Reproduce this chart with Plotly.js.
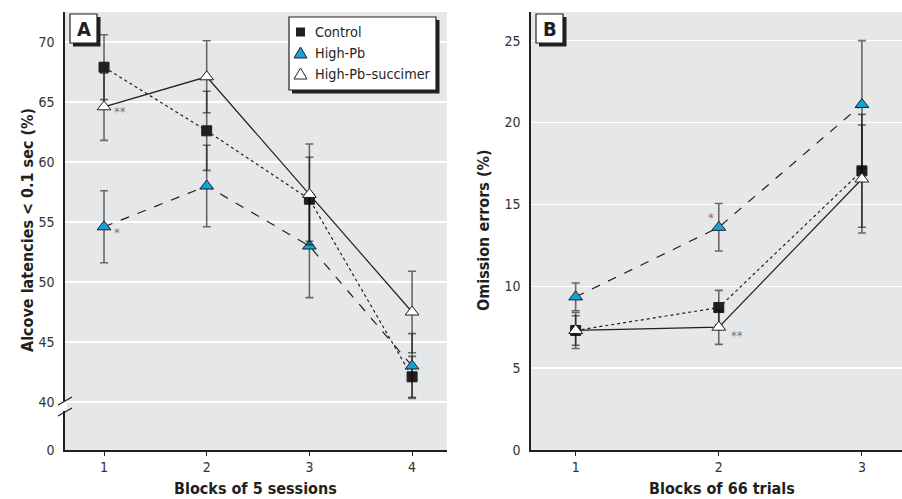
<!DOCTYPE html>
<html><head><meta charset="utf-8">
<script src="https://cdn.plot.ly/plotly-3.0.1.min.js"></script>
<style>html,body{margin:0;padding:0;background:#fff}</style>
</head><body><div id="chart" style="width:902px;height:499px"></div>
<script>
// ---- Panel A data (Blocks of 5 sessions) ----
const blocksA = [1, 2, 3, 4];
const controlA = [67.9, 62.6, 56.9, 42.1];
const controlAErr = [2.7, 3.3, 3.5, 1.7];
const highPbA = [54.6, 58.0, 53.0, 43.0];
const highPbAErr = [3.0, 3.4, 4.3, 2.7];
const succimerA = [64.6, 67.1, 57.3, 47.5];
const succimerAErr = [2.8, 3.0, 4.2, 3.4];
const yTicksA = [0, 40, 45, 50, 55, 60, 65, 70];

// ---- Panel B data (Blocks of 66 trials) ----
const blocksB = [1, 2, 3];
const controlB = [7.3, 8.7, 17.05];
const controlBErr = [0.9, 1.05, 3.45];
const highPbB = [9.35, 13.6, 21.1];
const highPbBErr = [0.85, 1.45, 3.9];
const succimerB = [7.3, 7.5, 16.55];
const succimerBErr = [1.1, 1.05, 3.3];
const yTicksB = [0, 5, 10, 15, 20, 25];

const seriesNames = ['Control', 'High-Pb', 'High-Pb\u2013succimer'];

// ---- styling ----
const FONT = '"DejaVu Sans Condensed", "Liberation Sans Narrow", "Arial Narrow", sans-serif';
const INK = '#231f20';
const BLUE = '#14a2dc';
const ERRC = 'rgba(0,0,0,0.55)';
const breakA = 36; // value position where the "0" label of the broken axis sits
const W = 902, H = 499;
const px = v => v / W, py = v => 1 - v / H;

const styles = [
  {dash: 'dot', symbol: 'square', fill: INK, size: 10},
  {dash: 'dash', symbol: 'triangle-up', fill: BLUE, size: 12},
  {dash: 'solid', symbol: 'triangle-up', fill: '#ffffff', size: 12}
];

function panel(xs, ys, errs, xa, ya) {
  const out = [];
  ys.forEach((y, i) => {
    out.push({x: xs, y: y, xaxis: xa, yaxis: ya, mode: 'lines', showlegend: false, hoverinfo: 'skip',
      line: {color: INK, width: 1.2, dash: styles[i].dash}});
  });
  ys.forEach((y, i) => {
    out.push({x: xs, y: y, xaxis: xa, yaxis: ya, mode: 'markers', name: seriesNames[i], showlegend: false,
      marker: {symbol: styles[i].symbol, size: styles[i].size, color: styles[i].fill, line: {color: INK, width: 1}},
      error_y: {type: 'data', array: errs[i], color: ERRC, thickness: 1.6, width: 4}});
  });
  return out;
}

const data = [].concat(
  panel(blocksA, [controlA, highPbA, succimerA], [controlAErr, highPbAErr, succimerAErr], 'x', 'y'),
  panel(blocksB, [controlB, highPbB, succimerB], [controlBErr, highPbBErr, succimerBErr], 'x2', 'y2')
);

const tickFont = {family: FONT, size: 14, color: '#333333'};
const axisCommon = {showline: true, linecolor: INK, linewidth: 1.6, zeroline: false, tickfont: tickFont,
  gridcolor: '#ffffff', gridwidth: 1.5, fixedrange: true};

const P = (x, y) => ({xref: 'paper', yref: 'paper', x: px(x), y: py(y), xanchor: 'center', yanchor: 'middle', showarrow: false});

// legend glyphs (drawn as pixel-sized shapes inside the legend box)
const legendRows = [32, 53, 74];
const legendGlyphX = 300.5;
function glyph(i) {
  const base = {xref: 'paper', yref: 'paper', xsizemode: 'pixel', ysizemode: 'pixel',
    xanchor: px(legendGlyphX), yanchor: py(legendRows[i]), layer: 'above'};
  if (i === 0) return Object.assign(base, {type: 'rect', x0: -4.5, x1: 4.5, y0: -4.5, y1: 4.5, fillcolor: INK, line: {width: 0}});
  return Object.assign(base, {type: 'path', path: 'M -6.5,-5 L 6.5,-5 L 0,6 Z', fillcolor: styles[i].fill, line: {color: INK, width: 1}});
}

const legendFont = {family: FONT, size: 14.3, color: INK};

const layout = {
  width: W, height: H,
  margin: {l: 0, r: 0, t: 0, b: 0},
  paper_bgcolor: '#ffffff', plot_bgcolor: '#e6e7e8',
  font: {family: FONT, color: INK},
  showlegend: false,
  xaxis: Object.assign({}, axisCommon, {domain: [px(65), px(447)], anchor: 'y', range: [0.62, 4.34],
    tickvals: blocksA, showgrid: false, ticks: 'outside', ticklen: 4, tickcolor: INK, tickwidth: 1}),
  yaxis: Object.assign({}, axisCommon, {domain: [py(450), py(12)], anchor: 'x', range: [breakA, 72.5],
    tickvals: yTicksA.map(v => v === 0 ? breakA : v), ticktext: yTicksA.map(String),
    ticks: 'outside', ticklen: 6, tickcolor: 'rgba(0,0,0,0)'}),
  xaxis2: Object.assign({}, axisCommon, {domain: [px(531), 1], anchor: 'y2', range: [0.688, 3.28],
    tickvals: blocksB, showgrid: false, ticks: 'outside', ticklen: 4, tickcolor: INK, tickwidth: 1}),
  yaxis2: Object.assign({}, axisCommon, {domain: [py(450), py(12)], anchor: 'x2', range: [0, 26.75],
    tickvals: yTicksB, ticks: 'outside', ticklen: 6, tickcolor: 'rgba(0,0,0,0)'}),
  shapes: [
    // legend box + shadow
    {type: 'rect', xref: 'paper', yref: 'paper', x0: px(292), x1: px(439.5), y0: py(93.5), y1: py(20), fillcolor: INK, line: {width: 0}, layer: 'above'},
    {type: 'rect', xref: 'paper', yref: 'paper', x0: px(289), x1: px(436), y0: py(90), y1: py(17), fillcolor: '#ffffff', line: {color: INK, width: 1.2}, layer: 'above'},
    glyph(0), glyph(1), glyph(2),
    // panel label A
    {type: 'rect', xref: 'paper', yref: 'paper', x0: px(73), x1: px(100.5), y0: py(46.5), y1: py(17), fillcolor: INK, line: {width: 0}, layer: 'above'},
    {type: 'rect', xref: 'paper', yref: 'paper', x0: px(70), x1: px(97), y0: py(43), y1: py(14), fillcolor: '#ffffff', line: {color: INK, width: 1.2}, layer: 'above'},
    // panel label B
    {type: 'rect', xref: 'paper', yref: 'paper', x0: px(539), x1: px(566.5), y0: py(46.5), y1: py(17), fillcolor: INK, line: {width: 0}, layer: 'above'},
    {type: 'rect', xref: 'paper', yref: 'paper', x0: px(536), x1: px(563), y0: py(43), y1: py(14), fillcolor: '#ffffff', line: {color: INK, width: 1.2}, layer: 'above'},
    // axis break on panel A
    {type: 'rect', xref: 'paper', yref: 'paper', x0: px(62), x1: px(67), y0: py(411), y1: py(401), fillcolor: '#ffffff', line: {width: 0}, layer: 'above'},
    {type: 'line', xref: 'paper', yref: 'paper', x0: px(58), y0: py(405), x1: px(72), y1: py(397), line: {color: INK, width: 1.2}, layer: 'above'},
    {type: 'line', xref: 'paper', yref: 'paper', x0: px(58), y0: py(416), x1: px(72), y1: py(408), line: {color: INK, width: 1.2}, layer: 'above'}
  ],
  annotations: [
    Object.assign(P(83.5, 29), {text: '<b>A</b>', font: {family: FONT, size: 20, color: INK}}),
    Object.assign(P(549.5, 29), {text: '<b>B</b>', font: {family: FONT, size: 20, color: INK}}),
    Object.assign(P(313, legendRows[0]), {xanchor: 'left', text: seriesNames[0], font: legendFont}),
    Object.assign(P(313, legendRows[1]), {xanchor: 'left', text: seriesNames[1], font: legendFont}),
    Object.assign(P(313, legendRows[2]), {xanchor: 'left', text: seriesNames[2], font: legendFont}),
    {xref: 'x', yref: 'y', x: 1.16, y: 64.2, text: '**', showarrow: false, font: {family: FONT, size: 13, color: '#777777'}},
    {xref: 'x', yref: 'y', x: 1.13, y: 54.1, text: '*', showarrow: false, font: {family: FONT, size: 13, color: '#777777'}},
    {xref: 'x2', yref: 'y2', x: 1.945, y: 14.2, text: '*', showarrow: false, font: {family: FONT, size: 13, color: '#777777'}},
    {xref: 'x2', yref: 'y2', x: 2.13, y: 7.0, text: '**', showarrow: false, font: {family: FONT, size: 13, color: '#777777'}},
    Object.assign(P(27, 230), {text: '<b>Alcove latencies &lt; 0.1 sec (%)</b>', textangle: -90, font: {family: FONT, size: 16, color: INK}}),
    Object.assign(P(483, 230), {text: '<b>Omission errors (%)</b>', textangle: -90, font: {family: FONT, size: 16, color: INK}}),
    Object.assign(P(255, 488), {text: '<b>Blocks of 5 sessions</b>', font: {family: FONT, size: 16, color: INK}}),
    Object.assign(P(722, 488), {text: '<b>Blocks of 66 trials</b>', font: {family: FONT, size: 16, color: INK}})
  ]
};

Plotly.newPlot('chart', data, layout, {displayModeBar: false, staticPlot: true});
</script>
</body></html>
